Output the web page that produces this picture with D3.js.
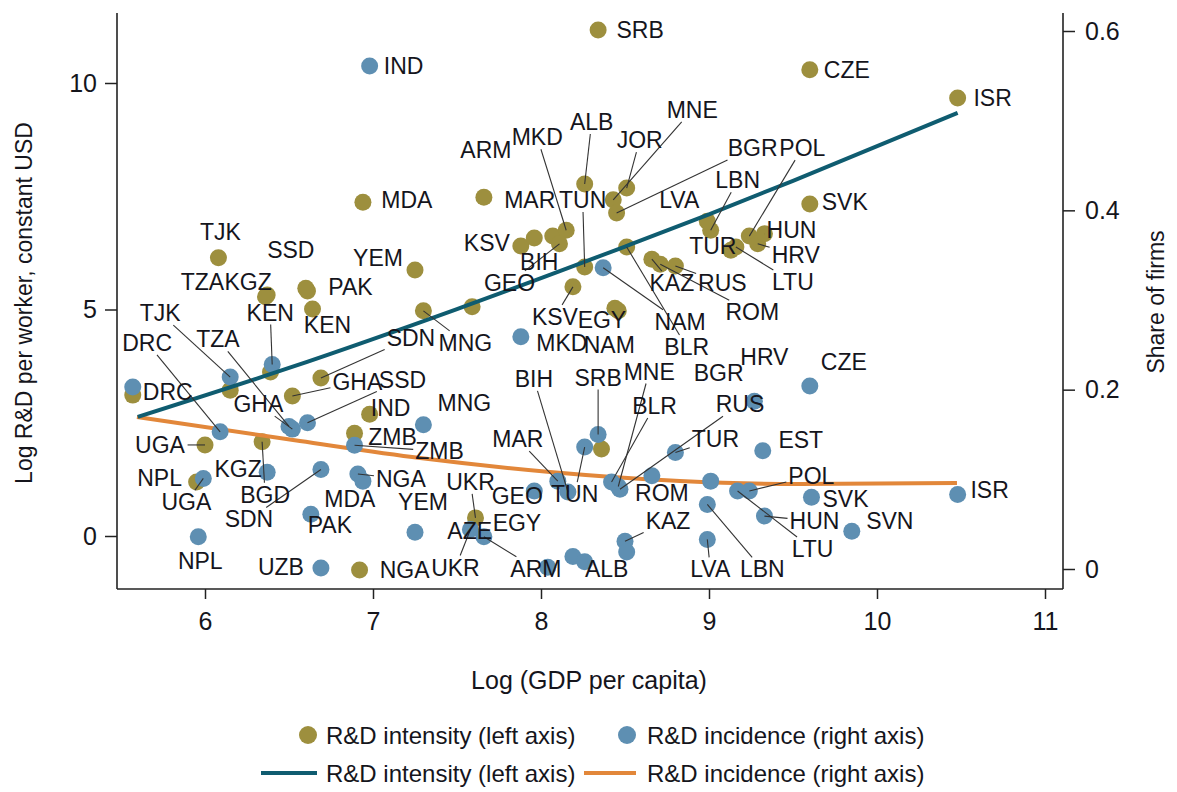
<!DOCTYPE html>
<html><head><meta charset="utf-8">
<script src="https://cdn.jsdelivr.net/npm/d3@7"></script>
<style>
body{margin:0;background:#fff;}
svg{display:block;font-family:"Liberation Sans",Arial,sans-serif;}
</style></head><body>
<svg id="chart" width="1177" height="792"></svg>
<script>
// ---------------- DATA ----------------
// R&D intensity (left axis): log R&D per worker
const intensityCodes = ["SRB","CZE","ISR","MDA","ARM","ALB","JOR","MNE","BGR","POL","LBN","LVA","TUR","LTU","HRV","HUN","SVK","RUS","KAZ","ROM","BLR","EGY","NAM","KSV","TUN","MAR","MKD","GEO","KSV","BIH","YEM","","MNG","TJK","KGZ","TZA","PAK","SSD","KEN","SDN","GHA","IND","ZMB","UGA","BGD","DRC","NPL","NGA","UKR","","",""];
const intensityGdp   = [8.34,9.60,10.48,6.94,7.66,8.26,8.51,8.43,8.45,9.24,9.01,8.99,9.13,9.16,9.29,9.33,9.60,8.80,8.66,8.71,8.51,8.44,8.46,8.19,8.26,8.07,8.15,8.11,7.88,7.96,7.25,7.59,7.30,6.08,6.37,6.36,6.61,6.60,6.64,6.69,6.52,6.98,6.89,6.00,6.34,5.57,5.95,6.92,7.61,8.36,6.15,6.39];
const intensityValue = [11.17,10.29,9.67,7.37,7.48,7.77,7.68,7.42,7.13,6.62,6.75,6.95,6.31,6.38,6.45,6.67,7.33,5.96,6.11,6.00,6.38,5.03,4.97,5.50,5.94,6.62,6.75,6.45,6.40,6.58,5.87,5.06,4.97,6.14,5.32,5.28,5.41,5.47,5.01,3.49,3.09,2.69,2.27,2.01,2.08,3.11,1.19,-0.75,0.40,1.92,3.22,3.62];

// R&D incidence (right axis): share of firms
const incidenceCodes = ["IND","CZE","HRV","EST","ISR","SVK","SVN","HUN","POL","LTU","LBN","LVA","BGR","TUR","RUS","BLR","MNE","SRB","TUN","BIH","MAR","GEO","EGY","ALB","AZE","KAZ","","ROM","UKR","ARM","NGA","MDA","YEM","UZB","PAK","SDN","KGZ","UGA","NPL","DRC","","TJK","TZA","GHA","SSD","KEN","MKD","NAM","MNG","ZMB"];
const incidenceGdp   = [6.98,9.60,9.27,9.32,10.48,9.61,9.85,9.33,9.24,9.17,8.99,8.99,9.01,8.80,8.47,8.42,8.46,8.34,8.26,8.16,8.10,7.96,8.19,8.26,8.04,8.50,8.51,8.66,7.58,7.66,6.91,6.94,7.25,6.69,6.63,6.69,6.37,5.99,5.96,6.09,5.57,6.15,6.50,6.52,6.61,6.40,7.88,8.37,7.30,6.89];
const incidenceValue = [0.561,0.204,0.187,0.132,0.083,0.080,0.042,0.059,0.087,0.087,0.072,0.033,0.098,0.130,0.089,0.097,0.092,0.150,0.136,0.086,0.098,0.087,0.014,0.008,0.002,0.031,0.019,0.104,0.044,0.036,0.106,0.098,0.041,0.001,0.061,0.111,0.108,0.101,0.036,0.153,0.203,0.214,0.159,0.156,0.163,0.228,0.259,0.336,0.161,0.138];

// fitted lines
const fitIntensityX = [5.60,6.50,7.50,8.50,9.00,9.50,10.48];
const fitIntensityY = [2.63,3.71,5.01,6.39,7.10,7.84,9.34];
const fitIncidenceX = [5.595,6.565,7.280,8.054,8.827,9.542,10.476];
const fitIncidenceY = [0.1695,0.1427,0.1238,0.1082,0.0981,0.0948,0.0959];

const xTicks = [6,7,8,9,10,11];
const leftTicks = [0,5,10];
const rightTicks = [0,0.2,0.4,0.6];
const rightTickLabels = ["0","0.2","0.4","0.6"];
const legendLabels = ["R&D intensity (left axis)","R&D incidence (right axis)"];

// ---------------- LABEL LAYOUT (pixel offsets from the point, leader flag) ----------------
const intensityLabelLayout = [
 [42,0,0],[37,0,0],[35,0,0],[44,-2,0],[2,-47,0],[7,-62,1],[13,-48,1],[79,-90,1],[136,-65,1],[53,-88,1],
 [27,-50,1],[-28,-21,0],[-18,-4,0],[57,35,1],[38,11,1],[27,-4,1],[35,-2,0],[47,17,1],[20,24,1],[92,48,1],
 [60,100,1],[-13,12,0],[-9,34,0],[-18,30,1],[-2,-67,1],[-23,-36,0],[-29,-93,1],[-50,39,1],[-34,-3,0],[5,24,0],
 [-37,-12,0],[0,0,0],[42,32,1],[2,-26,0],[-19,-13,0],[-63,-15,0],[43,-4,0],[-15,-38,0],[15,16,0],[90,-40,1],
 [65,-14,1],[21,-6,0],[38,4,0],[-45,0,1],[3,53,1],[35,-3,0],[-37,-4,0],[45,0,0],[-5,-36,1],[0,0,0],[0,0,0],[0,0,0]
];
const incidenceLabelLayout = [
 [34,0,0],[34,-24,0],[10,-44,0],[38,-11,0],[32,-5,0],[34,2,0],[38,-10,0],[50,5,1],[62,-15,1],[75,58,1],
 [55,65,1],[3,30,1],[8,-108,0],[40,-13,1],[120,-85,1],[43,-76,1],[31,-115,1],[0,-57,1],[-10,47,1],[-34,-113,1],
 [-40,-42,1],[-17,5,1],[-56,-33,0],[22,7,1],[-78,-36,0],[43,-20,1],[0,0,0],[10,17,0],[-15,38,1],[52,32,1],
 [43,5,1],[-13,18,0],[8,-30,0],[-40,-1,0],[19,11,0],[-72,50,1],[-29,-3,0],[-17,24,1],[2,24,0],[-73,-89,1],
 [0,0,0],[-70,-64,1],[-71,-87,1],[-34,-25,1],[95,-43,1],[-2,-52,1],[41,6,0],[77,54,1],[41,-22,0],[85,6,1]
];

// ---------------- DRAW ----------------
const GOLD="#9D8F3E", BLUE="#5E8FB2", TEAL="#0F5C70", ORANGE="#E2873A", INK="#15151c";
const svg = d3.select("#chart");
const x = d3.scaleLinear().domain([6,11]).range([205,1045]);
const yL = d3.scaleLinear().domain([0,10]).range([536,83]);
const yR = d3.scaleLinear().domain([0,0.6]).range([569,31]);
const X0=117, X1=1063, YB=589, YT=13;

// axes
const axG = svg.append("g").attr("stroke","#222").attr("stroke-width",1.6);
axG.append("line").attr("x1",X0).attr("x2",X0).attr("y1",YT).attr("y2",YB);
axG.append("line").attr("x1",X1).attr("x2",X1).attr("y1",YT).attr("y2",YB);
axG.append("line").attr("x1",X0).attr("x2",X1).attr("y1",YB).attr("y2",YB);

const bottom = svg.append("g").attr("transform",`translate(0,${YB})`)
  .call(d3.axisBottom(x).tickValues(xTicks).tickSize(10).tickPadding(13).tickFormat(d3.format("d")));
const left = svg.append("g").attr("transform",`translate(${X0},0)`)
  .call(d3.axisLeft(yL).tickValues(leftTicks).tickSize(12).tickPadding(8).tickFormat(d3.format("d")));
const right = svg.append("g").attr("transform",`translate(${X1},0)`)
  .call(d3.axisRight(yR).tickValues(rightTicks).tickSize(12).tickPadding(10).tickFormat((d,i)=>rightTickLabels[i]));
[bottom,left,right].forEach(g=>{
  g.select(".domain").remove();
  g.selectAll(".tick line").attr("stroke","#222").attr("stroke-width",1.5);
  g.selectAll(".tick text").attr("font-size",25).attr("fill",INK).attr("font-family","Liberation Sans, Arial, sans-serif");
});

// axis titles
svg.append("text").attr("x",589).attr("y",680).attr("text-anchor","middle").attr("dominant-baseline","central")
  .attr("font-size",25).attr("fill",INK).text("Log (GDP per capita)");
svg.append("text").attr("transform","translate(24,303) rotate(-90)").attr("text-anchor","middle").attr("dominant-baseline","central")
  .attr("font-size",23).attr("fill",INK).text("Log R&D per worker, constant USD");
svg.append("text").attr("transform","translate(1156,302) rotate(-90)").attr("text-anchor","middle").attr("dominant-baseline","central")
  .attr("font-size",23).attr("fill",INK).text("Share of firms");

// data objects
const gold = intensityCodes.map((c,i)=>({code:c, px:x(intensityGdp[i]), py:yL(intensityValue[i]), lay:intensityLabelLayout[i]}));
const blue = incidenceCodes.map((c,i)=>({code:c, px:x(incidenceGdp[i]), py:yR(incidenceValue[i]), lay:incidenceLabelLayout[i]}));

const R = 8.5;
svg.append("g").selectAll("circle").data(gold).join("circle")
  .attr("cx",d=>d.px).attr("cy",d=>d.py).attr("r",R).attr("fill",GOLD);

const lineInc = d3.line().x(d=>x(d[0])).y(d=>yR(d[1])).curve(d3.curveMonotoneX);
svg.append("path").datum(fitIncidenceX.map((v,i)=>[v,fitIncidenceY[i]]))
  .attr("d",lineInc).attr("fill","none").attr("stroke",ORANGE).attr("stroke-width",4);

svg.append("g").selectAll("circle").data(blue).join("circle")
  .attr("cx",d=>d.px).attr("cy",d=>d.py).attr("r",R).attr("fill",BLUE);

const lineInt = d3.line().x(d=>x(d[0])).y(d=>yL(d[1])).curve(d3.curveMonotoneX);
svg.append("path").datum(fitIntensityX.map((v,i)=>[v,fitIntensityY[i]]))
  .attr("d",lineInt).attr("fill","none").attr("stroke",TEAL).attr("stroke-width",4);

// labels and leaders
const leaderG = svg.append("g").attr("stroke","#333").attr("stroke-width",1.1);
const labelG = svg.append("g");
function drawLabels(arr){
  arr.forEach(d=>{
    if(!d.code) return;
    const lx = d.px + d.lay[0], ly = d.py + d.lay[1];
    const t = labelG.append("text").attr("x",lx).attr("y",ly)
      .attr("text-anchor","middle").attr("dominant-baseline","central")
      .attr("font-size",23).attr("fill",INK).text(d.code);
    if(d.lay[2]){
      const b = t.node().getBBox();
      const pad = 2;
      const bx0=b.x-pad, bx1=b.x+b.width+pad, by0=b.y+3-pad, by1=b.y+b.height-3+pad;
      const cx=lx, cy=ly, dx=d.px-cx, dy=d.py-cy;
      let tmin = 1;
      if(dx!==0){ const tx = dx>0 ? (bx1-cx)/dx : (bx0-cx)/dx; if(tx>0) tmin=Math.min(tmin,tx); }
      if(dy!==0){ const ty = dy>0 ? (by1-cy)/dy : (by0-cy)/dy; if(ty>0) tmin=Math.min(tmin,ty); }
      if(tmin<1){
        leaderG.append("line").attr("x1",cx+dx*tmin).attr("y1",cy+dy*tmin).attr("x2",d.px).attr("y2",d.py);
      }
    }
  });
}
drawLabels(gold);
drawLabels(blue);

// legend
const lg = svg.append("g");
lg.append("circle").attr("cx",308).attr("cy",735).attr("r",9).attr("fill",GOLD);
lg.append("text").attr("x",326).attr("y",735).attr("dominant-baseline","central").attr("font-size",24).attr("fill",INK).text(legendLabels[0]);
lg.append("circle").attr("cx",627).attr("cy",735).attr("r",9).attr("fill",BLUE);
lg.append("text").attr("x",647).attr("y",735).attr("dominant-baseline","central").attr("font-size",24).attr("fill",INK).text(legendLabels[1]);
lg.append("line").attr("x1",261).attr("x2",317).attr("y1",773).attr("y2",773).attr("stroke",TEAL).attr("stroke-width",4);
lg.append("text").attr("x",326).attr("y",773).attr("dominant-baseline","central").attr("font-size",24).attr("fill",INK).text(legendLabels[0]);
lg.append("line").attr("x1",584).attr("x2",636).attr("y1",773).attr("y2",773).attr("stroke",ORANGE).attr("stroke-width",4);
lg.append("text").attr("x",647).attr("y",773).attr("dominant-baseline","central").attr("font-size",24).attr("fill",INK).text(legendLabels[1]);
</script>
</body></html>
